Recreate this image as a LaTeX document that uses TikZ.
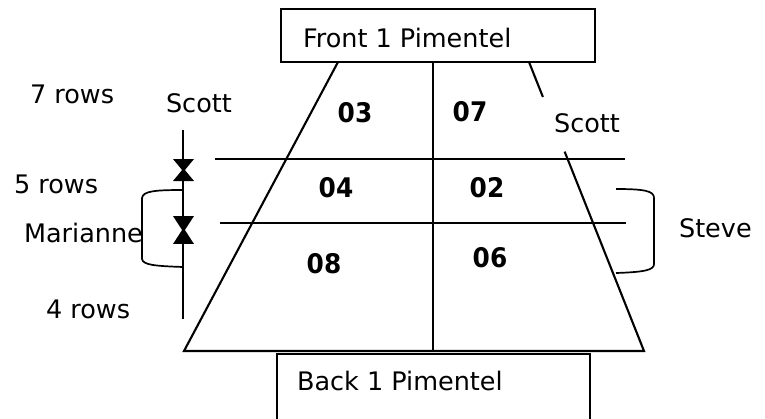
\documentclass[tikz,border=0pt]{standalone}
\usepackage{fontspec}
\usetikzlibrary{calc}
\setmainfont{DejaVu Sans}
\newfontfamily\numfont[FakeStretch=0.92]{DejaVu Sans}
\begin{document}
\begin{tikzpicture}[x=1bp,y=-1bp,line width=2.1bp,
  lbl/.style={inner sep=0pt,anchor=base west,font=\fontsize{25.5bp}{30bp}\selectfont},
  num/.style={inner sep=0pt,font=\numfont\bfseries\fontsize{27bp}{32bp}\selectfont},
  namebox/.style={draw,rectangle,inner sep=0pt,line width=2.1bp},
  thin/.style={line width=1.7bp},
  hglass/.pic={\fill (-10.5,-11) -- (10.5,-11) -- (1.4,0) -- (10.5,11) -- (-10.5,11) -- (-1.4,0) -- cycle;}]
\useasboundingbox (0,0) rectangle (765,418);

% front name box
\node[namebox,minimum width=314bp,minimum height=53bp] (front) at (438,35.5) {};
\node[lbl] (fronttxt) at (302,47) {Front 1 Pimentel};

% trapezoid corners
\coordinate (tl) at (338,62);
\coordinate (tr) at (529,62);
\coordinate (bl) at (184,351);
\coordinate (br) at (644,351);
\coordinate (topmid) at (433,62);
\coordinate (botmid) at (433,351);

% outline of the seating block, right side broken around the label
\draw (tl) -- (bl) -- (br) -- ($(tr)!0.31!(br)$);
\draw (tr) -- ($(tr)!0.121!(br)$);
\draw (topmid) -- (botmid);

% row dividers
\coordinate (r1l) at (215,159);
\coordinate (r1r) at (625,159);
\coordinate (r2l) at (220,223);
\coordinate (r2r) at (626,223);
\draw (r1l) -- (r1r);
\draw (r2l) -- (r2r);

% back name box (open at the bottom edge of the page)
\draw (277,425) |- (590,354) -- (590,425);
\node[lbl] (backtxt) at (296,390) {Back 1 Pimentel};

% section numbers
\node[num] (s03) at (355,112.5) {03};
\node[num] (s07) at (470,112) {07};
\node[num] (s04) at (336,187.5) {04};
\node[num] (s02) at (487,187.5) {02};
\node[num] (s08) at (324,264) {08};
\node[num] (s06) at (490,257.5) {06};

% left scale with row markers
\coordinate (scaletop) at (183,130);
\coordinate (scalebot) at (183,319);
\draw[thin] (scaletop) -- (scalebot);
\pic at (183.5,170) {hglass};
\pic[yscale=1.27] at (183.5,230) {hglass};

% brackets
\draw[thin] (183,190) .. controls (155,190) and (143,191) .. (142,198)
  -- (142,259) .. controls (143,265) and (155,266) .. (183,267);
\draw[thin] (616,189) .. controls (645,189) and (654,191) .. (654,198)
  -- (654,264) .. controls (654,270) and (645,272) .. (616,273);

% labels
\node[lbl] (rows7) at (29,103) {7 rows};
\node[lbl] (rows5) at (13,193) {5 rows};
\node[lbl] (rows4) at (45,318) {4 rows};
\node[lbl] (marianne) at (23,242) {Marianne};
\node[lbl] (scottl) at (165,112) {Scott};
\node[lbl] (scottr) at (553,132) {Scott};
\node[lbl] (steve) at (678,237) {Steve};
\end{tikzpicture}
\end{document}
